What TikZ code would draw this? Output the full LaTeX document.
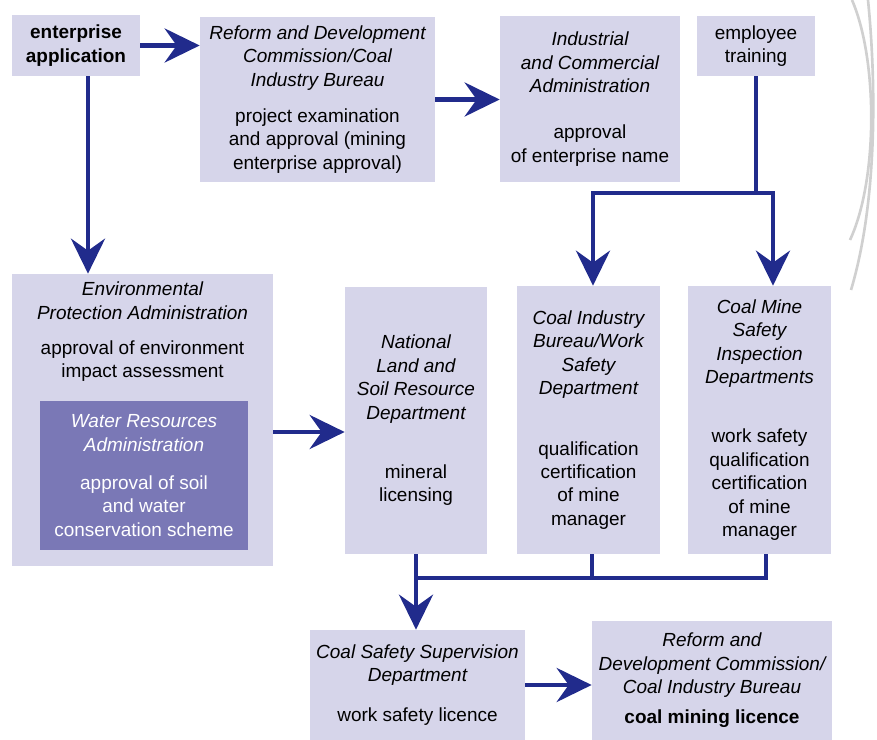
\documentclass[tikz,border=0pt]{standalone}
\usepackage{fontspec}
\setmainfont{Liberation Sans}
\usepackage{xcolor}
\usetikzlibrary{arrows.meta,positioning}
\definecolor{boxlav}{RGB}{214,213,234}
\definecolor{waterpurple}{RGB}{122,120,182}
\definecolor{flowblue}{RGB}{33,43,140}
\definecolor{edgegray}{RGB}{208,208,208}

\begin{document}
\begin{tikzpicture}[x=0.02cm, y=-0.02cm, font=\fontsize{10.8}{13.3}\selectfont,
  box/.style={fill=boxlav, align=center, inner sep=2pt},
  waterbox/.style={fill=waterpurple, text=white, align=center, inner sep=2pt},
  flow/.style={draw=flowblue, line width=2.8pt, -{Stealth[length=0.7cm, width=0.68cm, inset=0.24cm]}},
  link/.style={draw=flowblue, line width=2.8pt}]
  \useasboundingbox (0,0) rectangle (877,740);

  % top row
  \node[box, minimum width=2.56cm, minimum height=1.22cm] (app) at (76,45.5) {\bfseries enterprise\\ \bfseries application};
  \node[box, minimum width=4.7cm, minimum height=3.3cm] (rdc) at (317.5,99.5)
    {\itshape Reform and Development\\ \itshape Commission/Coal\\ \itshape Industry Bureau\\[0.26cm]project examination\\ and approval (mining\\ enterprise approval)};
  \node[box, minimum width=3.6cm, minimum height=3.32cm] (ica) at (590,99)
    {\itshape Industrial\\ \itshape and Commercial\\ \itshape Administration\\[0.46cm]approval\\ of enterprise name};
  \node[box, minimum width=2.36cm, minimum height=1.2cm] (train) at (756,46) {employee\\ training};

  % middle row
  \node[box, minimum width=5.22cm, minimum height=5.84cm] (epa) at (142.5,420) {};
  \node[below=0.16cm of epa.north, align=center, inner sep=0pt] (epatext)
    {\itshape Environmental\\ \itshape Protection Administration\\[0.24cm]approval of environment\\ impact assessment};
  \node[waterbox, minimum width=4.16cm, minimum height=2.98cm] (water) at (144,475.5)
    {\itshape Water Resources\\ \itshape Administration\\[0.3cm]approval of soil\\ and water\\ conservation scheme};
  \node[box, minimum width=2.84cm, minimum height=5.34cm] (nlsr) at (416,420.5)
    {\itshape National\\ \itshape Land and\\ \itshape Soil Resource\\ \itshape Department\\[0.72cm]mineral\\ licensing};
  \node[box, minimum width=2.86cm, minimum height=5.36cm] (cib) at (588.5,420)
    {\itshape Coal Industry\\ \itshape Bureau/Work\\ \itshape Safety\\ \itshape Department\\[0.74cm]qualification\\ certification\\ of mine\\ manager};
  \node[box, minimum width=2.86cm, minimum height=5.36cm] (cmsi) at (759.5,420)
    {\itshape Coal Mine\\ \itshape Safety\\ \itshape Inspection\\ \itshape Departments\\[0.72cm]work safety\\ qualification\\ certification\\ of mine\\ manager};

  % bottom row
  \node[box, minimum width=4.3cm, minimum height=2.2cm] (cssd) at (417.5,685)
    {\itshape Coal Safety Supervision\\ \itshape Department\\[0.32cm]work safety licence};
  \node[box, minimum width=4.8cm, minimum height=2.38cm] (rdc2) at (712,680.5)
    {\itshape Reform and\\ \itshape Development Commission/\\ \itshape Coal Industry Bureau\\[0.14cm]\bfseries coal mining licence};

  % connectors
  \draw[flow] (app.east) -- (app.east -| rdc.west);
  \draw[flow] (rdc.east) -- (rdc.east -| ica.west);
  \draw[flow] ([xshift=0.24cm]app.south) -- ([xshift=0.24cm]app.south |- epa.north);
  \coordinate (split) at (train.south |- 0,193);
  \draw[link] (train.south) -- (split);
  \draw[flow] (split) -| ([xshift=0.09cm]cib.north);
  \draw[flow] (split) -| ([xshift=0.27cm]cmsi.north);
  \draw[flow] ([yshift=-0.24cm]epa.east) -- ([yshift=-0.24cm]epa.east -| nlsr.west);
  \coordinate (merge) at (nlsr.south |- 0,578);
  \draw[link] ([xshift=0.07cm]cib.south) |- (merge);
  \draw[link] ([xshift=0.13cm]cmsi.south) |- (merge);
  \draw[flow] (nlsr.south) -- (nlsr.south |- cssd.north);
  \draw[flow] (cssd.east) -- (cssd.east -| rdc2.west);

  % page edge
  \draw[edgegray, line width=1.5pt] (852,0) .. controls (878,60) and (878,180) .. (850,240);
  \draw[edgegray, line width=1.5pt] (868,0) .. controls (876,80) and (878,200) .. (851,290);
\end{tikzpicture}
\end{document}
